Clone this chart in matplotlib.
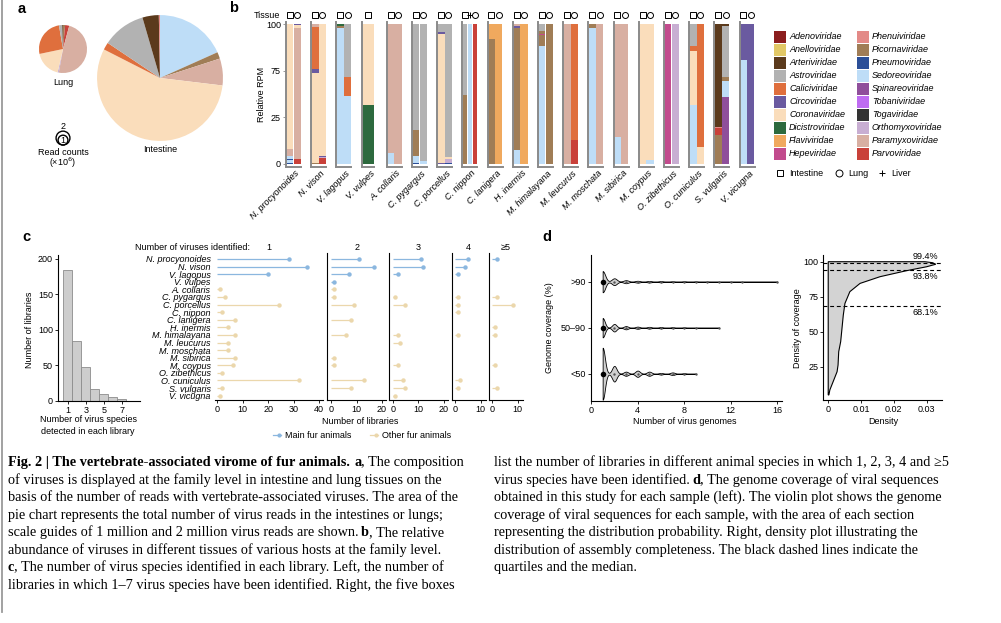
#!/usr/bin/env python3
# Fig. 2 -- vertebrate-associated virome of fur animals (panels a-d + caption)
import numpy as np
import matplotlib
matplotlib.use("Agg")
import matplotlib.pyplot as plt
from matplotlib.patches import Circle, Rectangle
from matplotlib.lines import Line2D

W, H = 1001, 623
SANS, SERIF = "Liberation Sans", "Liberation Serif"
plt.rcParams["font.family"] = [SANS, "DejaVu Sans"]
plt.rcParams["font.size"] = 6.5
plt.rcParams["axes.linewidth"] = 0.8

# --- virus families / palette ------------------------------------------------
FAMILIES = ["Adenoviridae", "Anelloviridae", "Arteriviridae", "Astroviridae",
            "Caliciviridae", "Circoviridae", "Coronaviridae", "Dicistroviridae",
            "Flaviviridae", "Hepeviridae", "Phenuiviridae", "Picornaviridae",
            "Pneumoviridae", "Sedoreoviridae", "Spinareoviridae", "Tobaniviridae",
            "Togaviridae", "Orthomyxoviridae", "Paramyxoviridae", "Parvoviridae"]
FAM_COLORS = ["#8B1E1E", "#E2C866", "#5B3A1C", "#B2B2B2", "#DF6F3D", "#6A5AA0",
              "#FADDBB", "#2D6A3E", "#F0A95E", "#C24B8D", "#E38A87", "#A07D56",
              "#2C4F98", "#BEDDF7", "#8F4F9B", "#BF6CF2", "#333333", "#C8AED2",
              "#D8AFA2", "#C9413A"]
COL = dict(zip(FAMILIES, FAM_COLORS))

# --- a: pies (percent of reads, clockwise from 12 o'clock) -------------------
PIE_TISSUES = ["Lung", "Intestine"]
PIE_READS_M = [24, 165]                     # total virus reads (x10^6)
LUNG_FAMS = ["Picornaviridae", "Parvoviridae", "Paramyxoviridae", "Orthomyxoviridae",
             "Coronaviridae", "Caliciviridae", "Astroviridae", "Arteriviridae"]
LUNG_PCT = [1.4, 2.8, 48.6, 0.8, 18.1, 25.6, 2.2, 0.5]
INT_FAMS = ["Sedoreoviridae", "Picornaviridae", "Paramyxoviridae", "Coronaviridae",
            "Caliciviridae", "Astroviridae", "Arteriviridae", "Phenuiviridae"]
INT_PCT = [18.3, 1.7, 6.9, 55.6, 1.9, 11.1, 4.2, 0.3]
GUIDE_READS_M = [2, 1]

# --- b: relative RPM per host / tissue (bottom -> top) -----------------------
HOSTS = ["N. procyonoides", "N. vison", "V. lagopus", "V. vulpes", "A. collaris",
         "C. pygargus", "C. porcellus", "C. nippon", "C. lanigera", "H. inermis",
         "M. himalayana", "M. leucurus", "M. moschata", "M. sibirica", "M. coypus",
         "O. zibethicus", "O. cuniculus", "S. vulgaris", "V. vicugna"]
HOST_TISSUES = [["Intestine", "Lung"]] * 3 + [["Intestine"]] + [["Intestine", "Lung"]] * 3 \
    + [["Intestine", "Liver", "Lung"]] + [["Intestine", "Lung"]] * 11
STACKS = [
    [[("Pneumoviridae", 1), ("Sedoreoviridae", 2), ("Pneumoviridae", 0.7), ("Sedoreoviridae", 2),
      ("Paramyxoviridae", 5.3), ("Coronaviridae", 89)],
     [("Parvoviridae", 3.6), ("Paramyxoviridae", 93.4), ("Coronaviridae", 2.4), ("Circoviridae", 0.6)]],
    [[("Picornaviridae", 1), ("Coronaviridae", 64), ("Circoviridae", 3), ("Caliciviridae", 30),
      ("Paramyxoviridae", 2)],
     [("Parvoviridae", 4.3), ("Orthomyxoviridae", 1), ("Circoviridae", 0.5), ("Coronaviridae", 94.2)]],
    [[("Sedoreoviridae", 97.5), ("Picornaviridae", 1), ("Dicistroviridae", 1.5)],
     [("Sedoreoviridae", 48.6), ("Caliciviridae", 13.8), ("Astroviridae", 37.6)]],
    [[("Dicistroviridae", 42), ("Coronaviridae", 58)]],
    [[("Sedoreoviridae", 7.6), ("Paramyxoviridae", 92.4)],
     [("Paramyxoviridae", 100)]],
    [[("Pneumoviridae", 1), ("Sedoreoviridae", 4.5), ("Picornaviridae", 18.5), ("Astroviridae", 76)],
     [("Sedoreoviridae", 2.2), ("Astroviridae", 97.8)]],
    [[("Circoviridae", 0.8), ("Coronaviridae", 92.4), ("Circoviridae", 0.8), ("Astroviridae", 6)],
     [("Pneumoviridae", 1), ("Orthomyxoviridae", 2.4), ("Coronaviridae", 1.6), ("Astroviridae", 95)]],
    [[("Picornaviridae", 49), ("Astroviridae", 51)],
     [("Sedoreoviridae", 100)],
     [("Parvoviridae", 100)]],
    [[("Picornaviridae", 89), ("Flaviviridae", 11)],
     [("Flaviviridae", 100)]],
    [[("Sedoreoviridae", 10), ("Picornaviridae", 87), ("Circoviridae", 1.5), ("Paramyxoviridae", 1.5)],
     [("Flaviviridae", 100)]],
    [[("Sedoreoviridae", 84), ("Picornaviridae", 8), ("Hepeviridae", 1), ("Picornaviridae", 2),
      ("Astroviridae", 5)],
     [("Picornaviridae", 100)]],
    [[("Paramyxoviridae", 100)],
     [("Parvoviridae", 17), ("Caliciviridae", 83)]],
    [[("Sedoreoviridae", 97.5), ("Picornaviridae", 2.5)],
     [("Paramyxoviridae", 100)]],
    [[("Sedoreoviridae", 19), ("Paramyxoviridae", 81)],
     [("Paramyxoviridae", 100)]],
    [[("Coronaviridae", 100)],
     [("Sedoreoviridae", 3), ("Coronaviridae", 97)]],
    [[("Hepeviridae", 100)],
     [("Orthomyxoviridae", 100)]],
    [[("Sedoreoviridae", 42), ("Coronaviridae", 39), ("Caliciviridae", 3.5), ("Astroviridae", 15.5)],
     [("Coronaviridae", 12.4), ("Caliciviridae", 87.6)]],
    [[("Picornaviridae", 20.7), ("Parvoviridae", 5.2), ("Phenuiviridae", 0.8), ("Arteriviridae", 73.3)],
     [("Spinareoviridae", 48), ("Sedoreoviridae", 11), ("Picornaviridae", 3), ("Astroviridae", 36.5),
      ("Arteriviridae", 1.5)]],
    [[("Sedoreoviridae", 74), ("Circoviridae", 26)],
     [("Circoviridae", 100)]],
]
RPM_TICKS = [0, 100 / 3, 200 / 3, 100]
RPM_TICKLABELS = ["0", "25", "75", "100"]
TISSUE_MARK = {"Intestine": "s", "Lung": "o", "Liver": "+"}

# --- c: histogram + lollipops ------------------------------------------------
HIST_SPECIES = [1, 2, 3, 4, 5, 6, 7]
HIST_LIBS = [184, 84, 48, 17, 10, 5, 3]
N_VIRUS_BINS = ["1", "2", "3", "4", "≥5"]
MAIN_FUR = ["N. procyonoides", "N. vison", "V. lagopus", "V. vulpes"]
LIBS_1 = [28, 35, 20, 0, 1, 3, 24, 2, 7, 4, 7, 4, 4, 7, 6, 2, 32, 2, 1]
LIBS_2 = [11, 17, 7, 1, 1, 1, 9, 0, 8, 0, 6, 0, 0, 1, 1, 0, 13, 8, 0]
LIBS_3 = [11, 12, 2, 0, 0, 1, 5, 0, 0, 0, 2, 3, 0, 0, 2, 0, 4, 5, 1]
LIBS_4 = [5, 4, 1, 0, 0, 1, 1, 1, 0, 0, 1, 0, 0, 0, 0, 0, 2, 1, 0]
LIBS_5 = [2, 0, 0, 0, 0, 2, 8, 0, 0, 1, 1, 0, 0, 0, 1, 0, 0, 2, 0]
LIBS_BY_BIN = [LIBS_1, LIBS_2, LIBS_3, LIBS_4, LIBS_5]

# --- d: genomes per sample by coverage class + coverage density --------------
COV_CLASSES = ["<50", "50–90", ">90"]
GENOMES = np.arange(1, 17)
N_LT50 = [100, 30, 8, 12, 8, 3, 5, 2, 1, 0, 0, 0, 0, 0, 0, 0]
N_50_90 = [90, 35, 15, 10, 8, 6, 5, 4, 2, 0, 1, 0, 0, 0, 0, 0]
N_GT90 = [140, 45, 20, 12, 10, 8, 6, 6, 5, 4, 3, 2, 1, 0, 0, 1]
DENS_COV = [4.8, 8.4, 14.3, 21.4, 26.2, 35.7, 42.9, 50, 61.9, 70.2, 78.6, 84.5,
            89.3, 93.6, 96.4, 98.2, 99.3, 100]
DENS_VAL = [0.0002, 0.0005, 0.0015, 0.0027, 0.0030, 0.0032, 0.0038, 0.0041, 0.0046,
            0.0051, 0.0066, 0.0097, 0.0158, 0.0239, 0.0300, 0.0328, 0.0318, 0.0295]
QUARTILES = [99.4, 93.8, 68.1]

BLUE, BEIGE = "#8BB7DF", "#EBD7AC"


def px_rect(x0, y0, x1, y1):
    return [x0 / W, 1 - y1 / H, (x1 - x0) / W, (y1 - y0) / H]


def ftext(x, y, s, **kw):
    kw.setdefault("ha", "center"); kw.setdefault("va", "center")
    return fig.text(x / W, 1 - y / H, s, **kw)


def style_ax(ax, color="black", lw=0.8):
    for s in ("top", "right"):
        ax.spines[s].set_visible(False)
    for s in ("left", "bottom"):
        ax.spines[s].set_color(color); ax.spines[s].set_linewidth(lw)
    ax.tick_params(length=2.2, width=0.6, pad=1.5, labelsize=6.5, color=color)


fig = plt.figure(figsize=(W / 100, H / 100), dpi=100)
fig.add_artist(Line2D([2 / W, 2 / W], [1, 1 - 612 / H], color="#9a9a9a", lw=1.3))
for lab, x, y in [("a", 22, 9), ("b", 234, 8), ("c", 26, 237), ("d", 547, 237)]:
    ftext(x, y, lab, fontsize=10.5, fontweight="bold")

# ---- a ----------------------------------------------------------------------
ax_a = fig.add_axes(px_rect(0, 0, 240, 190)); ax_a.axis("off")
K = 4.9                                     # px per sqrt(10^6 reads)
for tissue, reads, fams, pct, (cx, cy) in zip(PIE_TISSUES, PIE_READS_M,
                                              [LUNG_FAMS, INT_FAMS], [LUNG_PCT, INT_PCT],
                                              [(63, 49), (160, 78)]):
    r = K * np.sqrt(reads)
    ax_a.pie(pct, colors=[COL[f] for f in fams], center=(cx, 190 - cy), radius=r,
             startangle=90, counterclock=False, wedgeprops=dict(linewidth=0))
    ax_a.text(cx, 190 - (cy + r + 9), tissue, ha="center", va="center", fontsize=6.5)
for g in GUIDE_READS_M:
    r = K * np.sqrt(g)
    ax_a.add_patch(Circle((63, 190 - (145 - r)), r, fill=False, ec="black", lw=1.0))
    if g == max(GUIDE_READS_M):
        ax_a.text(63, 190 - (145 - 2 * r - 5), str(g), ha="center", va="center", fontsize=6.5)
    else:
        ax_a.text(63, 190 - (145 - r), str(g), ha="center", va="center", fontsize=6.5)
ax_a.text(63, 190 - 153, "Read counts", ha="center", va="center", fontsize=6.5)
ax_a.text(63, 190 - 163, "(×10$^6$)", ha="center", va="center", fontsize=6.5)
ax_a.set_xlim(0, 240); ax_a.set_ylim(0, 190)

# ---- b ----------------------------------------------------------------------
ftext(280, 15, "Tissue", ha="right")
ftext(262, 94, "Relative RPM", rotation=90)
for i, host in enumerate(HOSTS):
    tissues = HOST_TISSUES[i]; n = len(tissues)
    w = 12.5 if n == 1 else 15
    x0 = 286 + i * 25.2
    ax = fig.add_axes(px_rect(x0, 22, x0 + w, 166.5))
    for j, stack in enumerate(STACKS[i]):
        bottom = 0
        for fam, v in stack:
            ax.bar(j, v, bottom=bottom, width=0.96, color=COL[fam], linewidth=0)
            bottom += v
        ax.plot(j, 106.4, marker=TISSUE_MARK[tissues[j]], ms=4.3, mfc="white",
                mec="black", mew=0.7, clip_on=False)
    ax.set_xlim(-0.5, n - 0.5); ax.set_ylim(-1.79, 101.43)
    style_ax(ax, color="#8a8a8a", lw=1.4)
    ax.set_xticks([])
    if i == 0:
        ax.set_yticks(RPM_TICKS); ax.set_yticklabels(RPM_TICKLABELS)
        ax.tick_params(axis="y", labelcolor="black")
    else:
        ax.set_yticks([])
    ax.text((n - 1) / 2 + 0.2, -3.5, host, rotation=45, ha="right", va="top",
            rotation_mode="anchor", style="italic", fontsize=6.5)

# legend (families + tissue symbols)
ax_l = fig.add_axes(px_rect(760, 20, 1001, 190)); ax_l.axis("off")
ax_l.set_xlim(760, 1001); ax_l.set_ylim(190, 20)
for k, fam in enumerate(FAMILIES):
    col, row = divmod(k, 10)
    xs, yc = 774 + col * 83, 36.7 + row * 13
    ax_l.add_patch(Rectangle((xs, yc - 6), 12, 12, color=COL[fam], lw=0))
    ax_l.text(xs + 15, yc, fam, ha="left", va="center", style="italic", fontsize=6.5)
for (tis, mx, tx) in [("Intestine", 780, 789), ("Lung", 839, 848), ("Liver", 882, 891)]:
    ax_l.plot(mx, 173.3, marker=TISSUE_MARK[tis], ms=5, mfc="white", mec="black", mew=0.7)
    ax_l.text(tx, 173.3, tis, ha="left", va="center", fontsize=6.5)

# ---- c: histogram -----------------------------------------------------------
ax_h = fig.add_axes(px_rect(58, 255, 140, 401))
ax_h.bar(HIST_SPECIES, HIST_LIBS, width=1.0, color="#CDCDCD", edgecolor="#8C8C8C", lw=0.6)
ax_h.set_xlim(-0.11, 9.0); ax_h.set_ylim(0, 205.6)
ax_h.set_xticks([1, 3, 5, 7]); ax_h.set_yticks([0, 50, 100, 150, 200])
style_ax(ax_h)
ftext(30, 330, "Number of libraries", rotation=90)
ftext(88, 420, "Number of virus species")
ftext(88, 432, "detected in each library")

# ---- c: lollipops -----------------------------------------------------------
PXU = 2.55
FACET_PX = [(215, 217.3, 323, [0, 10, 20, 30, 40]), (327.3, 331, 386, [0, 10, 20]),
            (389.3, 392.7, 448, [0, 10, 20]), (451.7, 455, 485.7, [0, 10]),
            (489, 492.3, 523.3, [0, 10])]
ftext(135, 247, "Number of viruses identified:", ha="left")
for k, ((x0, zero, x1, ticks), vals, lab) in enumerate(zip(FACET_PX, LIBS_BY_BIN, N_VIRUS_BINS)):
    ax = fig.add_axes(px_rect(x0, 253, x1, 400))
    for r, (host, v) in enumerate(zip(HOSTS, vals)):
        if v <= 0:
            continue
        c = BLUE if host in MAIN_FUR else BEIGE
        ax.plot([0, v], [r, r], color=c, lw=0.9, solid_capstyle="butt")
        ax.plot(v, r, "o", ms=3.2, color=c, mew=0)
    ax.set_xlim((x0 - zero) / PXU, (x1 - zero) / PXU)
    ax.set_ylim(18.57, -0.79)
    style_ax(ax)
    ax.set_xticks(ticks)
    if k == 0:
        ax.spines["left"].set_visible(False)
        ax.set_yticks(range(len(HOSTS)))
        ax.set_yticklabels(HOSTS, style="italic")
        ax.tick_params(axis="y", length=0, pad=3)
    else:
        ax.set_yticks([])
    ftext((x0 + x1) / 2, 247, lab)
ftext(360, 421, "Number of libraries")
for (lx, tx, c, lab) in [(273, 285, BLUE, "Main fur animals"), (370, 382, BEIGE, "Other fur animals")]:
    fig.add_artist(Line2D([lx / W, (lx + 8) / W], [1 - 435 / H] * 2, color=c, lw=0.9))
    fig.add_artist(Line2D([(lx + 6) / W], [1 - 435 / H], marker="o", ms=3, color=c, mew=0))
    ftext(tx, 435, lab, ha="left")

# ---- d: violins -------------------------------------------------------------
ax_v = fig.add_axes(px_rect(591, 255, 782, 401))
for pos, counts, wid, bw in [(0, N_LT50, 1.13, 0.11), (1, N_50_90, 0.42, 0.09), (2, N_GT90, 0.46, 0.08)]:
    samples = np.repeat(GENOMES, counts)
    parts = ax_v.violinplot([samples], positions=[pos], widths=wid, orientation="horizontal",
                            showextrema=False, bw_method=bw, points=500)
    for b in parts["bodies"]:
        b.set_facecolor("#CFCFCF"); b.set_edgecolor("black"); b.set_linewidth(0.6); b.set_alpha(1)
    present = GENOMES[np.array(counts) > 0]
    ax_v.scatter(present, [pos] * len(present), s=3, color="#555555", zorder=3, lw=0)
    ax_v.scatter([np.median(samples)], [pos], s=16, color="black", zorder=4, lw=0)
ax_v.set_xlim(0, 16.4); ax_v.set_ylim(-0.593, 2.58)
ax_v.set_xticks([0, 4, 8, 12, 16]); ax_v.set_yticks([0, 1, 2]); ax_v.set_yticklabels(COV_CLASSES)
style_ax(ax_v)
ftext(550, 328, "Genome coverage (%)", rotation=90)
ftext(685, 421, "Number of virus genomes")

# ---- d: coverage density ----------------------------------------------------
ax_k = fig.add_axes(px_rect(823.3, 255, 942, 400))
ax_k.fill(np.r_[0, DENS_VAL, 0], np.r_[DENS_COV[0], DENS_COV, DENS_COV[-1]],
          facecolor="#D3D3D3", edgecolor="black", lw=0.8)
for q in QUARTILES:
    ax_k.axhline(q, color="black", lw=0.8, ls=(0, (3.5, 2.5)))
ax_k.text(0.0337, QUARTILES[0] + 1.3, f"{QUARTILES[0]}%", ha="right", va="bottom", fontsize=6.5)
ax_k.text(0.0337, QUARTILES[1] - 1.3, f"{QUARTILES[1]}%", ha="right", va="top", fontsize=6.5)
ax_k.text(0.0337, QUARTILES[2] - 1.5, f"{QUARTILES[2]}%", ha="right", va="top", fontsize=6.5)
ax_k.set_xlim(-0.0015, 0.0347); ax_k.set_ylim(1.2, 104.8)
ax_k.set_xticks([0, 0.01, 0.02, 0.03]); ax_k.set_xticklabels(["0", "0.01", "0.02", "0.03"])
ax_k.set_yticks([25, 50, 75, 100])
style_ax(ax_k)
ftext(798, 328, "Density of coverage", rotation=90)
ftext(883, 421, "Density")

# ---- caption ----------------------------------------------------------------
CAP_LEFT = [
    [("Fig. 2 | The vertebrate-associated virome of fur animals.", True), (" ", False),
     ("a", True), (", The composition", False)],
    [("of viruses is displayed at the family level in intestine and lung tissues on the", False)],
    [("basis of the number of reads with vertebrate-associated viruses. The area of the", False)],
    [("pie chart represents the total number of virus reads in the intestines or lungs;", False)],
    [("scale guides of 1 million and 2 million virus reads are shown. ", False), ("b", True),
     (", The relative", False)],
    [("abundance of viruses in different tissues of various hosts at the family level.", False)],
    [("c", True), (", The number of virus species identified in each library. Left, the number of", False)],
    [("libraries in which 1–7 virus species have been identified. Right, the five boxes", False)],
]
CAP_RIGHT = [
    [("list the number of libraries in different animal species in which 1, 2, 3, 4 and ≥5", False)],
    [("virus species have been identified. ", False), ("d", True),
     (", The genome coverage of viral sequences", False)],
    [("obtained in this study for each sample (left). The violin plot shows the genome", False)],
    [("coverage of viral sequences for each sample, with the area of each section", False)],
    [("representing the distribution probability. Right, density plot illustrating the", False)],
    [("distribution of assembly completeness. The black dashed lines indicate the", False)],
    [("quartiles and the median.", False)],
]
renderer = fig.canvas.get_renderer()
CAP_SIZE = 10.3


def text_w(s, bold):
    t = fig.text(0, 0, s, fontsize=CAP_SIZE, family=SERIF,
                 fontweight="bold" if bold else "normal")
    w = t.get_window_extent(renderer).width
    t.remove()
    return w


# boundary spaces between bold/regular runs; trimmed a little since the
# measured run extents already carry the glyph side bearings
SPACE_W = {b: 0.6 * (text_w("x x", b) - text_w("xx", b)) for b in (False, True)}


def rich_line(x, y, parts):
    for s, bold in parts:
        core = s.strip()
        lead = len(s) - len(s.lstrip()); trail = len(s) - len(s.rstrip())
        x += lead * SPACE_W[bold]
        if core:
            t = fig.text(x / W, 1 - y / H, core, fontsize=CAP_SIZE, family=SERIF,
                         fontweight="bold" if bold else "normal", va="baseline", ha="left")
            x += t.get_window_extent(renderer).width
        x += trail * SPACE_W[bold]


for k, parts in enumerate(CAP_LEFT):
    rich_line(8, 466 + k * 17.55, parts)
for k, parts in enumerate(CAP_RIGHT):
    rich_line(494, 466 + k * 17.55, parts)

fig.savefig("out.png", dpi=100)
